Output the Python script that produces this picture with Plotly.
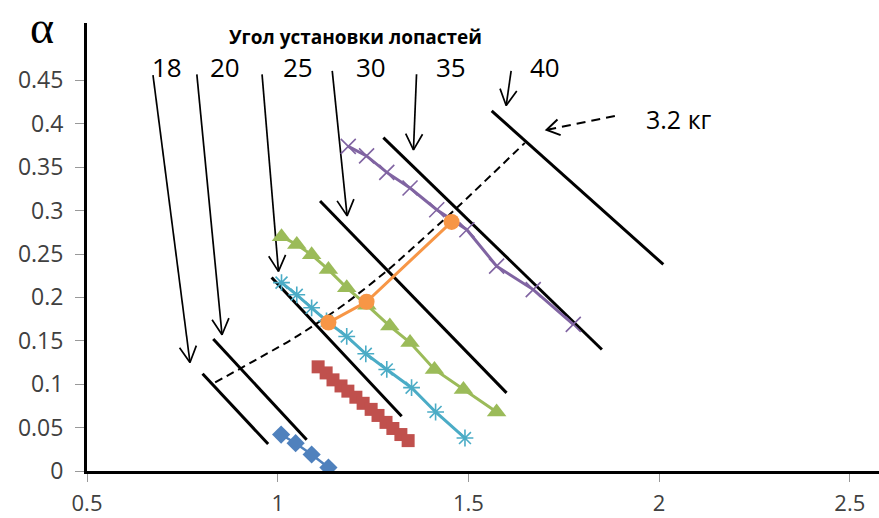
import math
import plotly.graph_objects as go

# ---------------- data ----------------
blue_x = [1.009, 1.047, 1.089, 1.133]
blue_y = [0.042, 0.032, 0.019, 0.004]

red_x = [1.106, 1.127, 1.145, 1.166, 1.184, 1.205, 1.224, 1.245, 1.263, 1.284, 1.302, 1.323, 1.342]
red_y = [0.120, 0.113, 0.105, 0.098, 0.092, 0.085, 0.078, 0.071, 0.064, 0.056, 0.049, 0.042, 0.035]

teal_x = [1.010, 1.050, 1.089, 1.128, 1.181, 1.231, 1.286, 1.351, 1.414, 1.491]
teal_y = [0.217, 0.203, 0.188, 0.173, 0.155, 0.135, 0.117, 0.096, 0.068, 0.038]

green_x = [1.010, 1.050, 1.089, 1.133, 1.181, 1.234, 1.294, 1.347, 1.411, 1.487, 1.574]
green_y = [0.270, 0.261, 0.249, 0.232, 0.211, 0.191, 0.167, 0.148, 0.117, 0.094, 0.068]

purple_x = [1.185, 1.233, 1.286, 1.347, 1.417, 1.496, 1.574, 1.670, 1.775]
purple_y = [0.374, 0.363, 0.344, 0.326, 0.301, 0.278, 0.236, 0.209, 0.169]

orange_x = [1.133, 1.233, 1.456]
orange_y = [0.171, 0.195, 0.287]

# blade-angle lines (start / end)
angle_labels = ["18", "20", "25", "30", "35", "40"]
angle_x0 = [0.803, 0.831, 0.984, 1.111, 1.277, 1.561]
angle_y0 = [0.112, 0.152, 0.223, 0.311, 0.384, 0.415]
angle_x1 = [0.975, 1.076, 1.325, 1.600, 1.850, 2.011]
angle_y1 = [0.031, 0.036, 0.063, 0.090, 0.140, 0.238]

# arrows from angle labels to the lines
arrow_tail_x = [0.673, 0.788, 0.959, 1.143, 1.364, 1.612]
arrow_tail_y = [0.456, 0.457, 0.457, 0.461, 0.457, 0.461]
arrow_tip_x = [0.770, 0.854, 1.002, 1.182, 1.356, 1.599]
arrow_tip_y = [0.125, 0.157, 0.230, 0.294, 0.370, 0.421]

# 3.2 kg dashed curve and its arrow
load_x = [0.836, 1.050, 1.181, 1.290, 1.469, 1.648]
load_y = [0.102, 0.155, 0.194, 0.232, 0.303, 0.378]
load_arrow_tail = (1.884, 0.409)
load_arrow_tip = (1.705, 0.393)

y_ticks = [0, 0.05, 0.1, 0.15, 0.2, 0.25, 0.3, 0.35, 0.4, 0.45]
y_tick_text = ["0", "0.05", "0.1", "0.15", "0.2", "0.25", "0.3", "0.35", "0.4", "0.45"]
x_ticks = [0.5, 1, 1.5, 2, 2.5]
x_tick_text = ["0.5", "1", "1.5", "2", "2.5"]

# ---------------- layout geometry ----------------
W, H = 879, 518
ML, MR, MT, MB = 87, 0, 23, 47
XR = [0.5, 0.5 + (W - ML - MR) / 381.4]
YR = [0, (H - MT - MB) / 868.0]
PX_X = (W - ML - MR) / (XR[1] - XR[0])
PX_Y = (H - MT - MB) / (YR[1] - YR[0])


def v_head(tail, tip, arm=18, half=28):
    dx = (tail[0] - tip[0]) * PX_X
    dy = (tail[1] - tip[1]) * PX_Y
    n = math.hypot(dx, dy)
    ux, uy = dx / n, dy / n
    pts = []
    for s in (1, -1):
        a = math.radians(half * s)
        rx = ux * math.cos(a) - uy * math.sin(a)
        ry = ux * math.sin(a) + uy * math.cos(a)
        pts.append((tip[0] + arm * rx / PX_X, tip[1] + arm * ry / PX_Y))
    return [pts[0][0], tip[0], pts[1][0]], [pts[0][1], tip[1], pts[1][1]]


fig = go.Figure()

# angle lines
for i in range(len(angle_labels)):
    fig.add_trace(go.Scatter(x=[angle_x0[i], angle_x1[i]], y=[angle_y0[i], angle_y1[i]],
                             mode="lines", line=dict(color="black", width=3),
                             hoverinfo="skip"))

# dashed 3.2 kg line
fig.add_trace(go.Scatter(x=load_x, y=load_y, mode="lines",
                         line=dict(color="black", width=2, dash="8px,5px", shape="spline",
                                   smoothing=0.6),
                         hoverinfo="skip"))

# arrows
for i in range(len(arrow_tail_x)):
    tail = (arrow_tail_x[i], arrow_tail_y[i])
    tip = (arrow_tip_x[i], arrow_tip_y[i])
    hx, hy = v_head(tail, tip)
    fig.add_trace(go.Scatter(x=[tail[0], tip[0], None] + hx, y=[tail[1], tip[1], None] + hy,
                             mode="lines", line=dict(color="black", width=1.7),
                             hoverinfo="skip"))

fig.add_trace(go.Scatter(x=[load_arrow_tail[0], load_arrow_tip[0]],
                         y=[load_arrow_tail[1], load_arrow_tip[1]], mode="lines",
                         line=dict(color="black", width=2, dash="9px,6px"), hoverinfo="skip"))
hx, hy = v_head(load_arrow_tail, load_arrow_tip, arm=15, half=32)
fig.add_trace(go.Scatter(x=hx, y=hy, mode="lines", line=dict(color="black", width=2),
                         hoverinfo="skip"))

# data series
fig.add_trace(go.Scatter(x=blue_x, y=blue_y, mode="lines+markers",
                         line=dict(color="#4F81BD", width=2.5),
                         marker=dict(symbol="diamond", size=14, color="#4F81BD")))
fig.add_trace(go.Scatter(x=red_x, y=red_y, mode="lines+markers",
                         line=dict(color="#C0504D", width=2.5),
                         marker=dict(symbol="square", size=13, color="#C0504D")))
fig.add_trace(go.Scatter(x=teal_x, y=teal_y, mode="lines+markers",
                         line=dict(color="#4BACC6", width=3),
                         marker=dict(symbol="asterisk-open", size=14,
                                     line=dict(color="#4BACC6", width=1.6))))
fig.add_trace(go.Scatter(x=green_x, y=green_y, mode="lines+markers",
                         line=dict(color="#9BBB59", width=3),
                         marker=dict(symbol="triangle-up", size=17, color="#9BBB59")))
fig.add_trace(go.Scatter(x=purple_x, y=purple_y, mode="lines+markers",
                         line=dict(color="#8064A2", width=3),
                         marker=dict(symbol="x-thin-open", size=15,
                                     line=dict(color="#8064A2", width=1.6))))
fig.add_trace(go.Scatter(x=orange_x, y=orange_y, mode="lines+markers",
                         line=dict(color="#F79646", width=3),
                         marker=dict(symbol="circle", size=16, color="#F79646")))

# text
label_font = dict(family="Open Sans", size=26, color="black")
label_pos_x = [0.710, 0.862, 1.052, 1.245, 1.454, 1.701]
annotations = []
for lab, lx in zip(angle_labels, label_pos_x):
    annotations.append(dict(x=lx, y=0.466, xref="x", yref="y", text=lab, showarrow=False,
                            xanchor="center", yanchor="middle", font=label_font))
annotations.append(dict(x=1.203, y=0.5005, xref="x", yref="y",
                        text="<b>Угол установки лопастей</b>", showarrow=False,
                        xanchor="center", yanchor="middle",
                        font=dict(family="Open Sans", size=19, color="black")))
annotations.append(dict(x=2.052, y=0.405, xref="x", yref="y", text="3.2 кг", showarrow=False,
                        xanchor="center", yanchor="middle",
                        font=dict(family="Open Sans", size=25, color="black")))
annotations.append(dict(x=-0.057, y=0.99, xref="paper", yref="paper", text="α",
                        showarrow=False, xanchor="center", yanchor="middle",
                        font=dict(family="Liberation Serif", size=46, color="black")))

fig.update_layout(
    template="none",
    width=W, height=H, autosize=False,
    margin=dict(l=ML, r=MR, t=MT, b=MB, autoexpand=False),
    paper_bgcolor="white", plot_bgcolor="white",
    showlegend=False,
    annotations=annotations,
    xaxis=dict(range=XR, tickvals=x_ticks, ticktext=x_tick_text, showgrid=False,
               zeroline=False, showline=True, linecolor="black", linewidth=3,
               ticks="outside", ticklen=8, tickcolor="#999999", tickwidth=1,
               tickfont=dict(family="Open Sans", size=22, color="#404040"),
               ticklabelstandoff=3, automargin=False),
    yaxis=dict(range=YR, tickvals=y_ticks, ticktext=y_tick_text, showgrid=False,
               zeroline=False, showline=True, linecolor="black", linewidth=3,
               ticks="outside", ticklen=9, tickcolor="#999999", tickwidth=1,
               tickfont=dict(family="Open Sans", size=23, color="#404040"),
               ticklabelstandoff=7, automargin=False),
)

fig.write_html("out.html", config={"displayModeBar": False},
               post_script="document.body.style.margin='0';document.body.style.overflow='hidden';")
